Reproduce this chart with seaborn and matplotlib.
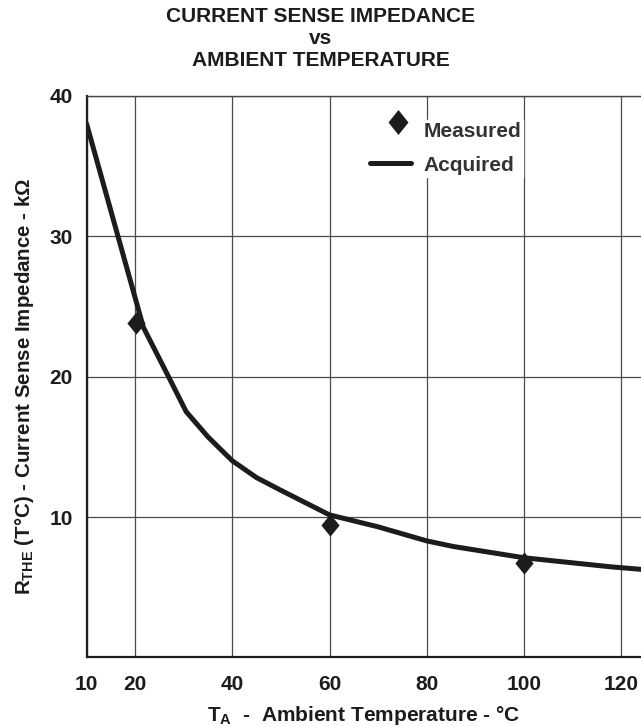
import matplotlib
matplotlib.use("Agg")
import matplotlib.pyplot as plt
import seaborn as sns
from matplotlib.lines import Line2D
from matplotlib.path import Path

# Acquired curve
temp_acquired = [10, 21.7, 27, 30.5, 35, 40, 45, 50, 60, 70, 80, 85.5, 100, 118, 125]
imp_acquired = [38, 23.5, 19.9, 17.5, 15.7, 14, 12.8, 11.9, 10.15, 9.3, 8.3, 7.9, 7.1, 6.45, 6.25]

# Measured points
temp_measured = [20.2, 60, 100]
imp_measured = [23.8, 9.4, 6.75]

x_ticks = [10, 20, 40, 60, 80, 100, 120]
y_ticks = [10, 20, 30, 40]

sns.set_style("white")
plt.rcParams["font.family"] = ["Liberation Sans", "DejaVu Sans"]
plt.rcParams["font.weight"] = "bold"
plt.rcParams["mathtext.fontset"] = "custom"
plt.rcParams["mathtext.rm"] = "Liberation Sans:bold"
plt.rcParams["mathtext.bf"] = "Liberation Sans:bold"
plt.rcParams["mathtext.default"] = "bf"

ink = "#1c1c1c"
diamond = Path([(0, 0.5), (0.41, 0), (0, -0.5), (-0.41, 0), (0, 0.5)],
               [Path.MOVETO, Path.LINETO, Path.LINETO, Path.LINETO, Path.CLOSEPOLY])
# legend diamond sits a little right of and above the handle centre
leg_diamond = Path([(8, 20.5), (18, 8), (8, -4.5), (-2, 8), (8, 20.5)],
                   [Path.MOVETO, Path.LINETO, Path.LINETO, Path.LINETO, Path.CLOSEPOLY])

fig = plt.figure(figsize=(6.41, 7.27), dpi=100)
ax = fig.add_axes([0.135, 0.0956, 0.865, 0.773])

sns.lineplot(x=temp_acquired, y=imp_acquired, ax=ax, color=ink, linewidth=3.6,
             sort=True, estimator=None, zorder=3)
sns.scatterplot(x=temp_measured, y=imp_measured, ax=ax, marker=diamond, s=16**2,
                color=ink, edgecolor=ink, linewidth=0, zorder=4)

ax.set_xlim(10, 124.1)
ax.set_ylim(0, 40)
ax.set_xticks(x_ticks)
ax.set_yticks(y_ticks)
ax.tick_params(axis="both", length=0, labelsize=15, labelcolor=ink)
ax.tick_params(axis="x", pad=12.5)
ax.tick_params(axis="y", pad=10)
for lab in ax.get_xticklabels() + ax.get_yticklabels():
    lab.set_fontweight("bold")

ax.grid(True, color="#4a4a4a", linewidth=0.9)
ax.set_axisbelow(True)
for side in ["left", "bottom"]:
    ax.spines[side].set_color(ink)
    ax.spines[side].set_linewidth(1.6)
ax.spines["top"].set_color("#444444")
ax.spines["top"].set_linewidth(1.0)
ax.spines["right"].set_visible(False)

ax.set_xlabel("T$_{A}$  -  Ambient Temperature - °C", fontsize=15,
              fontweight="bold", color=ink)
ax.set_ylabel("R$_{THE}$ (T°C) - Current Sense Impedance - kΩ", fontsize=14.8,
              fontweight="bold", color=ink)
ax.xaxis.set_label_coords(0.5, -0.082)
ax.yaxis.set_label_coords(-0.092, 0.482)

fig.text(0.5, 1 - 7 / 727, "CURRENT SENSE IMPEDANCE\nvs\nAMBIENT TEMPERATURE",
         ha="center", va="top", fontsize=15, fontweight="bold", color=ink,
         linespacing=1.2)

handles = [
    Line2D([], [], linestyle="none", marker=leg_diamond, markersize=29.5,
           color=ink, markeredgewidth=0, label="Measured"),
    Line2D([], [], color=ink, linewidth=3.6, solid_capstyle="round", label="Acquired"),
]
leg = ax.legend(handles=handles, loc="upper left",
                bbox_to_anchor=(368 / 641, 1 - 120 / 727),
                bbox_transform=fig.transFigure, frameon=True, fancybox=False,
                facecolor="white", edgecolor="white", framealpha=1,
                fontsize=15, handlelength=1.95, handletextpad=0.6,
                labelspacing=0.7, borderpad=0.1, borderaxespad=0)
for t in leg.get_texts():
    t.set_color("#333333")
    t.set_fontweight("bold")
leg.set_zorder(5)

fig.savefig("out.png", dpi=100)
